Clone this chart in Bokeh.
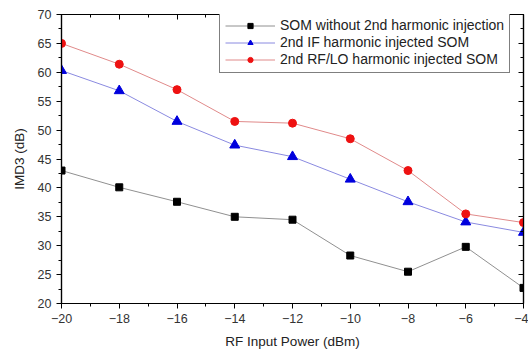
from bokeh.plotting import figure
from bokeh.models import Range1d, LinearAxis, FixedTicker, Legend, LegendItem
from bokeh.embed import file_html
from bokeh.resources import INLINE

x = [-20, -18, -16, -14, -12, -10, -8, -6, -4]
som_plain = [43.0, 40.1, 37.6, 35.0, 34.5, 28.3, 25.5, 29.8, 22.7]
som_if = [60.3, 56.8, 51.5, 47.4, 45.4, 41.5, 37.6, 34.1, 32.3]
som_rflo = [65.0, 61.4, 57.0, 51.5, 51.2, 48.5, 43.0, 35.5, 34.0]
names = ["SOM without 2nd harmonic injection",
         "2nd IF harmonic injected SOM",
         "2nd RF/LO harmonic injected SOM"]
x_ticks = [-20, -18, -16, -14, -12, -10, -8, -6, -4]
y_ticks = [20, 25, 30, 35, 40, 45, 50, 55, 60, 65, 70]

FONT = "Liberation Sans"
TXT = "#222222"

p = figure(width=528, height=351, output_backend="svg", toolbar_location=None,
           x_range=Range1d(-20, -4), y_range=Range1d(20, 70),
           min_border_left=61, min_border_right=5, min_border_top=14, min_border_bottom=48)
p.background_fill_color = "white"
p.border_fill_color = "white"
p.outline_line_color = "black"
p.outline_line_width = 1.2
p.xgrid.visible = False
p.ygrid.visible = False

xminor = [v + 1 for v in x_ticks[:-1]]
yminor = [v + 2.5 for v in y_ticks[:-1]]

for ax, lab in ((p.xaxis[0], "RF Input Power (dBm)"), (p.yaxis[0], "IMD3 (dB)")):
    ax.axis_label = lab
    ax.axis_label_text_font = FONT
    ax.axis_label_text_font_size = "13.5px"
    ax.axis_label_text_font_style = "normal"
    ax.axis_label_text_color = TXT
    ax.major_label_text_font = FONT
    ax.major_label_text_font_size = "12.5px"
    ax.major_label_text_color = "#333333"
    ax.axis_line_color = "black"
    ax.axis_line_width = 1.2
    ax.major_tick_out = 5
    ax.major_tick_in = 0
    ax.minor_tick_out = 3
    ax.minor_tick_in = 0
    ax.major_tick_line_color = "black"
    ax.minor_tick_line_color = "black"
p.xaxis[0].ticker = FixedTicker(ticks=x_ticks, minor_ticks=xminor)
p.yaxis[0].ticker = FixedTicker(ticks=y_ticks, minor_ticks=yminor)
p.xaxis[0].axis_label_standoff = 8
p.yaxis[0].axis_label_standoff = 8

top = LinearAxis(ticker=FixedTicker(ticks=x_ticks, minor_ticks=xminor),
                 major_label_text_color=None, major_label_text_font_size="1px",
                 major_label_standoff=0, major_tick_in=5, major_tick_out=0,
                 minor_tick_in=3, minor_tick_out=0, axis_line_width=1.2)
right = LinearAxis(ticker=FixedTicker(ticks=y_ticks, minor_ticks=yminor),
                   major_label_text_color=None, major_label_text_font_size="1px",
                   major_label_standoff=0, major_tick_in=5, major_tick_out=0,
                   minor_tick_in=3, minor_tick_out=0, axis_line_width=1.2)
p.add_layout(top, "above")
p.add_layout(right, "right")

l1 = p.line(x, som_plain, line_color="#909090", line_width=1)
m1 = p.scatter(x, som_plain, marker="square", size=7, fill_color="black", line_color="black")
l2 = p.line(x, som_if, line_color="#8a8ae0", line_width=1)
m2 = p.scatter(x, som_if, marker="triangle", size=10, fill_color="#0000dd", line_color="#0000dd")
l3 = p.line(x, som_rflo, line_color="#e08a8a", line_width=1)
m3 = p.scatter(x, som_rflo, marker="circle", size=8, fill_color="#ee1111", line_color="#ee1111")

legend = Legend(items=[LegendItem(label=names[0], renderers=[l1, m1]),
                       LegendItem(label=names[1], renderers=[l2, m2]),
                       LegendItem(label=names[2], renderers=[l3, m3])],
                location=(158, 230))
legend.label_text_font = FONT
legend.label_text_font_size = "14px"
legend.label_text_color = TXT
legend.border_line_color = "black"
legend.border_line_width = 1
legend.background_fill_alpha = 1
legend.glyph_width = 50
legend.glyph_height = 13
legend.label_height = 13
legend.spacing = 1
legend.padding = 5
legend.margin = 0
legend.label_standoff = 5
p.add_layout(legend, "center")

open("out.html", "w").write(file_html(p, INLINE))
